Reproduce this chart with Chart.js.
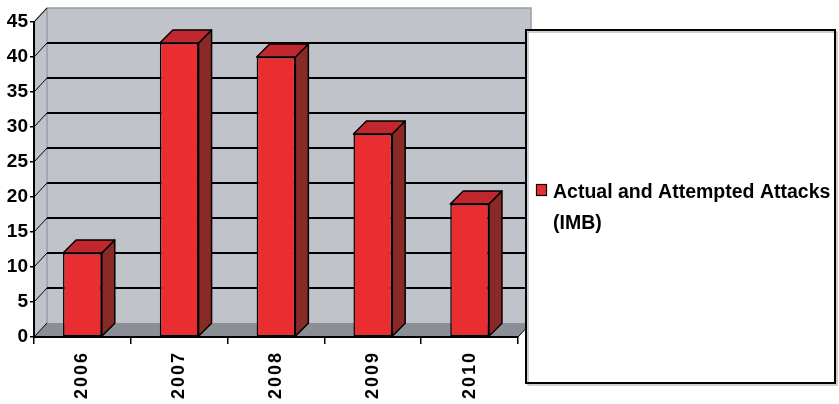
<!DOCTYPE html>
<html>
<head>
<meta charset="utf-8">
<script src="https://cdn.jsdelivr.net/npm/chart.js@4/dist/chart.umd.min.js"></script>
<style>
  html, body { margin: 0; padding: 0; background: #ffffff; }
  #wrap { width: 839px; height: 404px; }
</style>
</head>
<body>
<div id="wrap"><canvas id="chart" width="839" height="404"></canvas></div>
<script>
// data
const years = ['2006', '2007', '2008', '2009', '2010'];
const attacks = [12, 42, 40, 29, 19];
const seriesLabel = 'Actual and Attempted Attacks (IMB)';
const legendLines = ['Actual and Attempted Attacks', '(IMB)'];

// 3d look
const DEPTH = { dx: 13, dy: -14 };
const COLORS = {
    wall: '#c0c3ca',
    wallEdge: '#9a9ea6',
    floor: '#8b8e94',
    front: '#e92d31',
    side: '#8a2a26',
    top: '#c1272e'
};

const fontFamily = "'Liberation Sans', Arial, Helvetica, sans-serif";
Chart.defaults.font.family = fontFamily;
Chart.defaults.color = '#000';

function poly(ctx, pts, fill, stroke, lw) {
    ctx.beginPath();
    ctx.moveTo(pts[0][0], pts[0][1]);
    for (let i = 1; i < pts.length; i++) ctx.lineTo(pts[i][0], pts[i][1]);
    ctx.closePath();
    if (fill) { ctx.fillStyle = fill; ctx.fill(); }
    if (stroke) { ctx.strokeStyle = stroke; ctx.lineWidth = lw || 1; ctx.stroke(); }
}

// back wall, side wall, floor and the gridlines on the back wall
const wallPlugin = {
    id: 'wall3d',
    beforeDraw(chart) {
        const { ctx, chartArea: a, scales } = chart;
        const { dx, dy } = DEPTH;
        ctx.save();
        // back wall
        poly(ctx, [[a.left + dx, a.top + dy], [a.right + dx, a.top + dy], [a.right + dx, a.bottom + dy], [a.left + dx, a.bottom + dy]], COLORS.wall);
        // left side wall
        poly(ctx, [[a.left, a.top], [a.left + dx, a.top + dy], [a.left + dx, a.bottom + dy], [a.left, a.bottom]], COLORS.wall);
        // floor
        poly(ctx, [[a.left, a.bottom], [a.left + dx, a.bottom + dy], [a.right + dx, a.bottom + dy], [a.right, a.bottom]], COLORS.floor);

        // wall outline
        ctx.strokeStyle = COLORS.wallEdge;
        ctx.lineWidth = 1.5;
        ctx.beginPath();
        ctx.moveTo(a.left, a.top);
        ctx.lineTo(a.left + dx, a.top + dy);
        ctx.lineTo(a.right + dx, a.top + dy);
        ctx.lineTo(a.right + dx, a.bottom + dy);
        ctx.moveTo(a.left + dx, a.top + dy);
        ctx.lineTo(a.left + dx, a.bottom + dy);
        ctx.stroke();

        // gridlines + diagonal connectors
        const y = scales.y;
        y.ticks.forEach(t => {
            const py = y.getPixelForValue(t.value);
            ctx.strokeStyle = '#000';
            ctx.lineWidth = 1;
            ctx.beginPath();
            ctx.moveTo(a.left, py);
            ctx.lineTo(a.left + dx, py + dy);
            ctx.stroke();
            if (t.value > y.min && t.value < y.max) {
                ctx.lineWidth = 2;
                ctx.beginPath();
                ctx.moveTo(a.left + dx, py + dy);
                ctx.lineTo(a.right + dx, py + dy);
                ctx.stroke();
            }
        });
        // right floor corner
        ctx.lineWidth = 1;
        ctx.beginPath();
        ctx.moveTo(a.right, a.bottom);
        ctx.lineTo(a.right + dx, a.bottom + dy);
        ctx.stroke();
        ctx.restore();
    }
};

// side and top faces of every bar, from the bar elements chart.js laid out
const barSidesPlugin = {
    id: 'barSides',
    afterDatasetsDraw(chart) {
        const { ctx } = chart;
        const dx = DEPTH.dx, dy = DEPTH.dy + 1;
        ctx.save();
        ctx.lineJoin = 'round';
        chart.getDatasetMeta(0).data.forEach(bar => {
            const { x, y, base, width } = bar.getProps(['x', 'y', 'base', 'width'], true);
            const l = x - width / 2, r = x + width / 2;
            poly(ctx, [[r, y], [r + dx, y + dy], [r + dx, base + dy], [r, base]], COLORS.side, '#000', 1.5);
            poly(ctx, [[l, y], [l + dx, y + dy], [r + dx, y + dy], [r, y]], COLORS.top, '#000', 1.5);
        });
        ctx.restore();
    }
};

// boxed legend on the right
const boxLegendPlugin = {
    id: 'boxLegend',
    afterDraw(chart) {
        const { ctx } = chart;
        const ds = chart.data.datasets[0];
        ctx.save();
        ctx.fillStyle = '#fff';
        ctx.fillRect(526, 30, 310, 354);
        ctx.strokeStyle = '#a0a0a0';
        ctx.lineWidth = 1;
        ctx.strokeRect(528, 32, 309, 353);
        ctx.strokeStyle = '#000';
        ctx.lineWidth = 2;
        ctx.strokeRect(526, 30, 309, 353);

        ctx.fillStyle = ds.backgroundColor;
        ctx.fillRect(536.5, 184.5, 10, 11);
        ctx.lineWidth = 1.2;
        ctx.strokeRect(536.5, 184.5, 10, 11);

        ctx.fillStyle = '#000';
        ctx.font = 'bold 19.5px ' + fontFamily;
        ctx.textBaseline = 'alphabetic';
        ctx.textAlign = 'left';
        legendLines.forEach((line, i) => ctx.fillText(line, 553, 198 + i * 31));
        ctx.restore();
    }
};

// spaced-out year labels
const spacedLabelsPlugin = {
    id: 'spacedLabels',
    afterUpdate(chart) {
        const sx = chart.scales.x;
        if (sx._spaced) return;
        const orig = sx.drawLabels;
        sx.drawLabels = function (area) {
            this.ctx.save();
            this.ctx.letterSpacing = '2px';
            orig.call(this, area);
            this.ctx.restore();
        };
        sx._spaced = true;
    }
};

new Chart(document.getElementById('chart'), {
    type: 'bar',
    data: {
        labels: years,
        datasets: [{
            label: seriesLabel,
            data: attacks,
            backgroundColor: COLORS.front,
            borderColor: '#000',
            borderWidth: 1.5,
            borderSkipped: false,
            categoryPercentage: 1,
            barPercentage: 0.4
        }]
    },
    options: {
        responsive: false,
        animation: false,
        layout: { padding: { top: 22, right: 321, bottom: 0, left: 0 } },
        plugins: {
            legend: { display: false },
            tooltip: { enabled: false }
        },
        scales: {
            x: {
                offset: true,
                grid: { display: true, drawOnChartArea: false, drawTicks: true, tickLength: 7, color: '#000', lineWidth: 1.5, offset: true },
                border: { display: true, color: '#000', width: 2 },
                ticks: { minRotation: 90, maxRotation: 90, padding: 7, font: { size: 18, weight: 'bold' }, color: '#000' },
                afterFit(scale) { scale.height = 67; }
            },
            y: {
                min: 0,
                max: 45,
                grid: { display: true, drawOnChartArea: false, drawTicks: true, tickLength: 4, color: '#000', lineWidth: 1.5 },
                border: { display: true, color: '#000', width: 2 },
                ticks: { stepSize: 5, padding: 2, font: { size: 19, weight: 'bold' }, color: '#000' },
                afterFit(scale) { scale.width = 34; }
            }
        }
    },
    plugins: [wallPlugin, barSidesPlugin, boxLegendPlugin, spacedLabelsPlugin]
});
</script>
</body>
</html>
